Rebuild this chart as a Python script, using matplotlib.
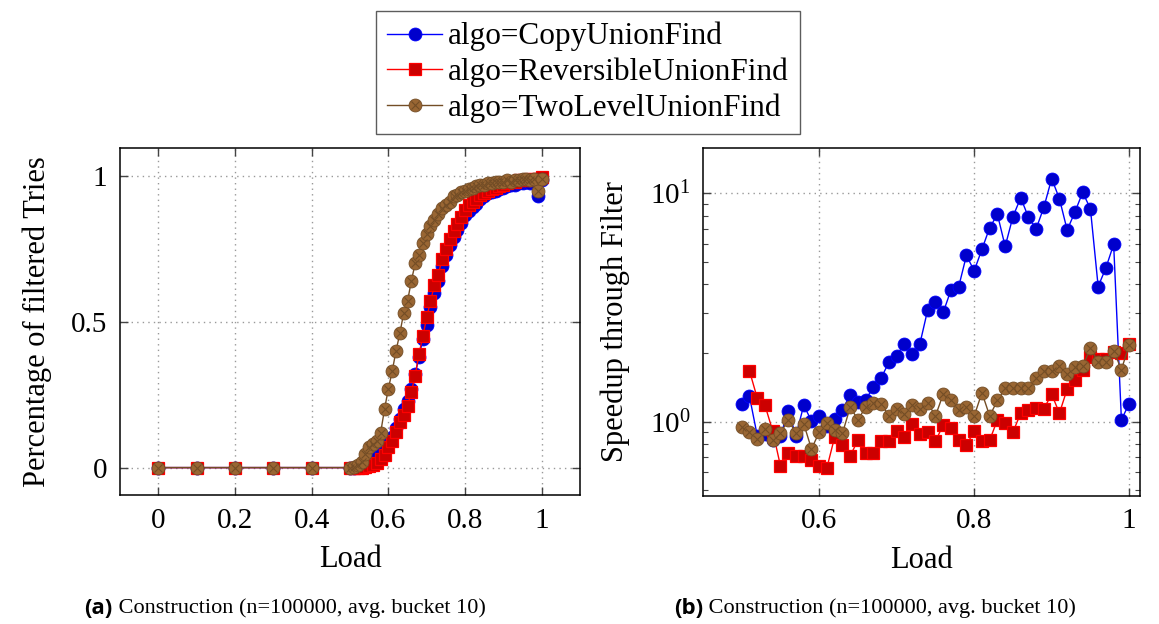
import matplotlib
matplotlib.use("Agg")
import matplotlib.pyplot as plt
from matplotlib.legend_handler import HandlerTuple
from matplotlib.ticker import FixedLocator, NullFormatter, LogLocator

plt.rcParams['font.family'] = ['Liberation Serif', 'DejaVu Serif']
plt.rcParams['mathtext.fontset'] = 'custom'
plt.rcParams['mathtext.rm'] = 'Liberation Serif'
plt.rcParams['mathtext.it'] = 'Liberation Serif:italic'

# ---------------- data ----------------
load_a = [0.0, 0.1, 0.2, 0.3, 0.4, 0.5,
          0.51, 0.52, 0.53, 0.54, 0.55, 0.56, 0.57, 0.58, 0.59, 0.60,
          0.61, 0.62, 0.63, 0.64, 0.65, 0.66, 0.67, 0.68, 0.69, 0.70,
          0.71, 0.72, 0.73, 0.74, 0.75, 0.76, 0.77, 0.78, 0.79, 0.80,
          0.81, 0.82, 0.83, 0.84, 0.85, 0.86, 0.87, 0.88, 0.89, 0.90,
          0.91, 0.92, 0.93, 0.94, 0.95, 0.96, 0.97, 0.98, 0.99, 1.00]

frac_copy = [0, 0, 0, 0, 0, 0,
             0, 0.002, 0.005, 0.01, 0.015, 0.025, 0.035, 0.045, 0.06, 0.08,
             0.105, 0.135, 0.165, 0.2, 0.23, 0.27, 0.32, 0.38, 0.44, 0.49,
             0.55, 0.6, 0.64, 0.69, 0.73, 0.765, 0.79, 0.815, 0.84, 0.865,
             0.88, 0.895, 0.905, 0.92, 0.93, 0.94, 0.945, 0.95, 0.955, 0.96,
             0.965, 0.97, 0.97, 0.975, 0.975, 0.98, 0.975, 0.98, 0.93, 0.985]

frac_rev = [0, 0, 0, 0, 0, 0,
            0, 0, 0, 0.002, 0.005, 0.008, 0.015, 0.03, 0.043, 0.07,
            0.09, 0.123, 0.155, 0.18, 0.21, 0.26, 0.315, 0.39, 0.45, 0.515,
            0.57, 0.625, 0.66, 0.715, 0.75, 0.785, 0.81, 0.835, 0.86, 0.885,
            0.9, 0.91, 0.92, 0.935, 0.94, 0.95, 0.955, 0.96, 0.965, 0.97,
            0.975, 0.98, 0.98, 0.985, 0.985, 0.985, 0.99, 0.99, 0.99, 0.995]

frac_two = [0, 0, 0, 0, 0, 0,
            0.003, 0.01, 0.02, 0.045, 0.07, 0.08, 0.09, 0.12, 0.2, 0.27,
            0.33, 0.40, 0.46, 0.53, 0.57, 0.64, 0.70, 0.73, 0.77, 0.80,
            0.83, 0.85, 0.87, 0.89, 0.90, 0.91, 0.93, 0.935, 0.945, 0.95,
            0.955, 0.96, 0.965, 0.97, 0.97, 0.975, 0.975, 0.98, 0.98, 0.98,
            0.985, 0.98, 0.985, 0.985, 0.99, 0.99, 0.985, 0.99, 0.95, 0.99]

load_b = [0.50, 0.51, 0.52, 0.53, 0.54, 0.55, 0.56, 0.57, 0.58, 0.59,
          0.60, 0.61, 0.62, 0.63, 0.64, 0.65, 0.66, 0.67, 0.68, 0.69,
          0.70, 0.71, 0.72, 0.73, 0.74, 0.75, 0.76, 0.77, 0.78, 0.79,
          0.80, 0.81, 0.82, 0.83, 0.84, 0.85, 0.86, 0.87, 0.88, 0.89,
          0.90, 0.91, 0.92, 0.93, 0.94, 0.95, 0.96, 0.97, 0.98, 0.99, 1.00]

speed_copy = [1.19, 1.29, 0.87, 0.88, 0.83, 0.87, 1.11, 0.87, 1.18, 1.01,
              1.06, 0.96, 1.03, 1.13, 1.31, 1.22, 1.25, 1.42, 1.56, 1.82,
              1.95, 2.20, 1.97, 2.20, 3.09, 3.35, 3.01, 3.77, 3.90, 5.35,
              4.58, 5.69, 7.08, 8.09, 5.86, 7.90, 9.57, 7.87, 7.00, 8.71,
              11.6, 9.48, 6.91, 8.28, 10.1, 8.57, 3.91, 4.72, 5.98, 1.02, 1.20]

load_b_rev = [0.51, 0.52, 0.53, 0.54, 0.55, 0.56, 0.57, 0.58, 0.59, 0.60,
              0.61, 0.62, 0.63, 0.64, 0.65, 0.66, 0.67, 0.68, 0.69, 0.70,
              0.71, 0.72, 0.73, 0.74, 0.75, 0.76, 0.77, 0.78, 0.79, 0.80,
              0.81, 0.82, 0.83, 0.84, 0.85, 0.86, 0.87, 0.88, 0.89, 0.90,
              0.91, 0.92, 0.93, 0.94, 0.95, 0.96, 0.97, 0.98, 0.99, 1.00]

speed_rev = [1.67, 1.27, 1.18, 0.91, 0.64, 0.73, 0.71, 0.71, 0.68, 0.64,
             0.63, 0.86, 0.79, 0.71, 0.83, 0.73, 0.73, 0.82, 0.82, 0.91,
             0.86, 0.98, 0.88, 0.90, 0.82, 0.97, 0.94, 0.83, 0.79, 0.91,
             0.82, 0.83, 1.02, 0.99, 0.90, 1.09, 1.13, 1.15, 1.14, 1.32,
             1.09, 1.39, 1.53, 1.68, 1.93, 1.89, 1.89, 2.03, 1.99, 2.20]

speed_two = [0.95, 0.90, 0.84, 0.93, 0.83, 0.89, 1.02, 0.89, 0.98, 0.76,
             0.90, 0.99, 0.92, 0.89, 1.16, 1.02, 1.16, 1.21, 1.20, 1.06,
             1.14, 1.08, 1.18, 1.14, 1.21, 1.06, 1.32, 1.24, 1.13, 1.16,
             1.06, 1.34, 1.06, 1.24, 1.40, 1.41, 1.41, 1.40, 1.55, 1.67,
             1.67, 1.75, 1.62, 1.73, 1.75, 2.10, 1.83, 1.83, 2.05, 1.69, 2.17]

series_names = ["algo=CopyUnionFind", "algo=ReversibleUnionFind", "algo=TwoLevelUnionFind"]
xticks_a = [0, 0.2, 0.4, 0.6, 0.8, 1.0]
xticklabels_a = ["0", "0.2", "0.4", "0.6", "0.8", "1"]
yticks_a = [0, 0.5, 1.0]
yticklabels_a = ["0", "0.5", "1"]
xticks_b = [0.6, 0.8, 1.0]
xticklabels_b = ["0.6", "0.8", "1"]

# ---------------- style ----------------
W, H = 1159, 624
fig = plt.figure(figsize=(W / 100, H / 100), dpi=100)

BLUE_L, BLUE_F = '#0000FF', '#0000CC'
RED_L, RED_F = '#FF0000', '#CC0000'
BR_L, BR_F = '#734D26', '#996633'
FS = 21
MS = 9.3
LW = 1.0


def px_axes(x0, y0, x1, y1):
    return fig.add_axes([x0 / W, 1 - y1 / H, (x1 - x0) / W, (y1 - y0) / H])


def style_axes(ax):
    for s in ax.spines.values():
        s.set_linewidth(1.1)
        s.set_color('black')
    ax.tick_params(which='major', direction='in', length=6, width=1.0,
                   top=True, right=True, labelsize=FS, pad=9, color='#444444')
    ax.tick_params(which='minor', direction='in', length=3.5, width=0.8,
                   top=True, right=True, color='#444444')
    ax.grid(True, which='major', linestyle=(0, (1, 3)), color='#999999', linewidth=1.0)
    ax.set_axisbelow(True)


def draw(ax, x, y, kind):
    if kind == 0:
        h = ax.plot(x, y, color=BLUE_L, lw=LW, marker='o', ms=MS,
                    mfc=BLUE_F, mec=BLUE_L, mew=0.6, zorder=3)[0]
        return h
    if kind == 1:
        h = ax.plot(x, y, color=RED_L, lw=LW, marker='s', ms=MS * 0.92,
                    mfc=RED_F, mec=RED_L, mew=0.9, zorder=4)[0]
        return h
    h1 = ax.plot(x, y, color=BR_L, lw=LW, marker='o', ms=MS,
                 mfc=BR_F, mec=BR_L, mew=0.6, zorder=5)[0]
    h2 = ax.plot(x, y, ls='none', marker='x', ms=MS * 0.55, mec=BR_L,
                 mew=0.8, zorder=6)[0]
    return (h1, h2)


# ---------------- left plot ----------------
axa = px_axes(120, 148, 580, 495)
style_axes(axa)
ha = [draw(axa, load_a, frac_copy, 0),
      draw(axa, load_a, frac_rev, 1),
      draw(axa, load_a, frac_two, 2)]
axa.set_xlim(-0.1, 1.1)
axa.set_ylim(-0.094, 1.096)
axa.set_xticks(xticks_a)
axa.set_xticklabels(xticklabels_a)
axa.set_yticks(yticks_a)
axa.set_yticklabels(yticklabels_a)
axa.set_xlabel("Load", fontsize=FS + 1, labelpad=8)
axa.set_ylabel("Percentage of filtered Tries", fontsize=FS + 1, labelpad=14)

# ---------------- right plot ----------------
axb = px_axes(703, 148, 1140, 496)
style_axes(axb)
draw(axb, load_b, speed_copy, 0)
draw(axb, load_b_rev, speed_rev, 1)
draw(axb, load_b, speed_two, 2)
axb.set_yscale('log')
axb.set_xlim(0.45, 1.014)
axb.set_ylim(0.473, 15.8)
axb.set_xticks(xticks_b)
axb.set_xticklabels(xticklabels_b)
axb.yaxis.set_major_locator(FixedLocator([1, 10]))
axb.set_yticklabels([r'$10^{0}$', r'$10^{1}$'])
axb.yaxis.set_minor_locator(LogLocator(base=10, subs=range(2, 10), numticks=20))
axb.yaxis.set_minor_formatter(NullFormatter())
axb.set_xlabel("Load", fontsize=FS + 1, labelpad=8)
axb.set_ylabel("Speedup through Filter", fontsize=FS + 1, labelpad=14)

# ---------------- legend ----------------
leg = fig.legend(ha, series_names, loc='upper center',
                 bbox_to_anchor=(588 / W, 1 - 11 / H),
                 handler_map={tuple: HandlerTuple(ndivide=1, pad=0)},
                 fontsize=22.5, frameon=True, fancybox=False, edgecolor='#333333',
                 handlelength=1.75, handletextpad=0.2, labelspacing=0.2,
                 borderpad=0.35, borderaxespad=0)
leg.get_frame().set_linewidth(1.0)

# ---------------- captions ----------------
cap_y = 1 - 608 / H
for cx, tag in [(285, "(a)"), (875, "(b)")]:
    t1 = fig.text(0, cap_y, tag, fontsize=16, fontweight='bold',
                  family=['Open Sans', 'DejaVu Sans'], va='center', ha='left')
    t2 = fig.text(0, cap_y, " Construction (n=100000, avg. bucket 10)", fontsize=16,
                  va='center', ha='left')
    fig.canvas.draw()
    r = fig.canvas.get_renderer()
    w1 = t1.get_window_extent(r).width
    w2 = t2.get_window_extent(r).width
    start = cx - (w1 + w2) / 2
    t1.set_x(start / W)
    t2.set_x((start + w1) / W)

fig.savefig("out.png", dpi=100)
